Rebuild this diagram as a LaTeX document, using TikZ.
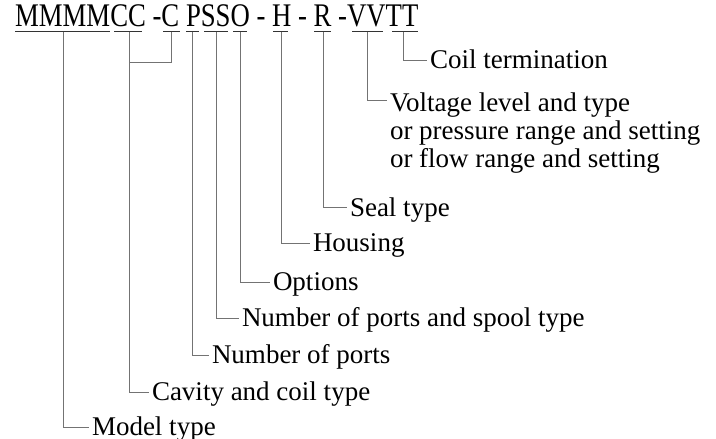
\documentclass[tikz,border=0pt]{standalone}
\usepackage{xcolor}
\usepackage{fontspec}
\setmainfont{Liberation Serif}
\newfontfamily\codefont[FakeStretch=0.81]{Liberation Serif}

\tikzset{
  uline/.style={line width=0.9pt, black!80},
  conn/.style={line width=0.9pt, black!55},
  lbl/.style={anchor=west, inner sep=0pt, outer xsep=3.5pt, text height=17.7pt, text depth=0pt, font=\fontsize{27}{28}\selectfont},
  multilbl/.style={anchor=north west, inner sep=0pt, outer xsep=3.5pt, align=left, font=\fontsize{27}{28}\selectfont},
}

\begin{document}
\begin{tikzpicture}[x=1pt, y=-1pt]
\useasboundingbox (0,0) rectangle (716,439);
% ordering code
\node[anchor=base west, inner sep=0pt, font=\codefont\fontsize{33}{36}\selectfont] (code) at (15,27) {MMMMCC -C PSSO - H - R -VVTT};
% underlines
\draw[uline] (15,31.5) -- (110,31.5);
\draw[uline] (114,31.5) -- (142,31.5);
\draw[uline] (163,31.5) -- (180,31.5);
\draw[uline] (186,31.5) -- (199,31.5);
\draw[uline] (204,31.5) -- (228,31.5);
\draw[uline] (233,31.5) -- (247,31.5);
\draw[uline] (273,31.5) -- (288,31.5);
\draw[uline] (314,31.5) -- (331,31.5);
\draw[uline] (352,31.5) -- (383,31.5);
\draw[uline] (392,31.5) -- (418,31.5);
\coordinate (mm) at (63,31.5);
\coordinate (cc) at (129,31.5);
\coordinate (c) at (171,31.5);
\coordinate (p) at (192,31.5);
\coordinate (ss) at (216,31.5);
\coordinate (o) at (240,31.5);
\coordinate (h) at (281,31.5);
\coordinate (r) at (323,31.5);
\coordinate (vv) at (367,31.5);
\coordinate (tt) at (403,31.5);
% labels
\node[lbl] (coil) at (426.5,60) {Coil termination};
\node[multilbl] (volt) at (386.5,92.6) {Voltage level and type\\or pressure range and setting\\or flow range and setting};
\node[lbl] (seal) at (346.5,207.5) {Seal type};
\node[lbl] (housing) at (309.5,243) {Housing};
\node[lbl] (options) at (269.5,282) {Options};
\node[lbl] (spool) at (238.5,318) {Number of ports and spool type};
\node[lbl] (ports) at (208.5,355) {Number of ports};
\node[lbl] (cavity) at (148.5,392) {Cavity and coil type};
\node[lbl] (model) at (88.5,427) {Model type};
% connectors
\draw[conn] (tt) |- (coil.west);
\draw[conn] (vv) |- ([yshift=-7.5pt]volt.north west);
\draw[conn] (r) |- (seal.west);
\draw[conn] (h) |- (housing.west);
\draw[conn] (o) |- (options.west);
\draw[conn] (ss) |- (spool.west);
\draw[conn] (p) |- (ports.west);
\draw[conn] (c) -- ++(0,30.5) -| (cc);
\draw[conn] (cc) |- (cavity.west);
\draw[conn] (mm) |- (model.west);
\end{tikzpicture}
\end{document}
